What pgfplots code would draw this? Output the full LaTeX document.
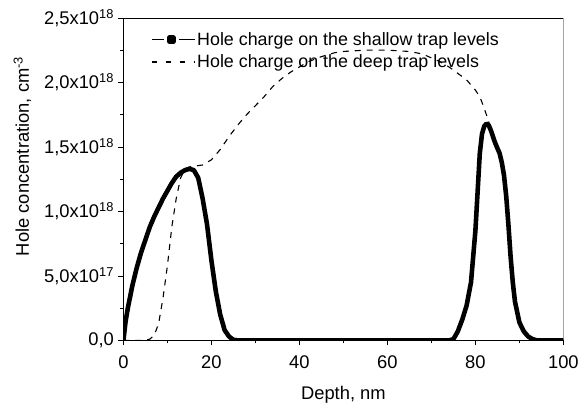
\documentclass[border=0pt]{standalone}
\usepackage{fontspec}
\setmainfont{Liberation Sans}
\usepackage{pgfplots}
\pgfplotsset{compat=1.18}
\usetikzlibrary{calc}

% values in units of 1e18 cm^-3
\pgfplotstableread{
x y
0 0
0.5 0.15
1 0.25
2 0.42
3 0.56
4 0.68
5 0.78
6 0.88
7 0.96
8 1.03
9 1.10
10 1.16
11 1.22
12 1.27
13 1.30
14 1.32
15 1.33
16 1.32
17 1.26
18 1.10
19 0.90
20 0.62
21 0.38
22 0.20
23 0.08
24 0.03
25 0.005
26 0
74 0
75 0.01
76 0.07
77 0.16
78 0.27
79 0.45
80 0.85
80.5 1.15
81 1.45
81.5 1.60
82 1.66
82.5 1.68
83 1.67
83.5 1.63
84 1.58
84.5 1.53
85 1.49
85.5 1.45
86 1.38
86.5 1.28
87 1.12
87.5 0.90
88 0.65
88.5 0.45
89 0.30
90 0.14
91 0.07
92 0.03
93 0.01
94 0
100 0
}\shallow

\pgfplotstableread{
x y
0 0
5 0
6 0.01
7 0.04
8 0.13
9 0.33
10 0.58
11 0.88
12 1.10
13 1.26
14 1.33
15 1.345
16 1.35
17 1.355
18 1.36
19 1.38
20 1.40
22 1.48
24 1.58
26 1.67
28 1.75
30 1.82
32 1.89
34 1.97
36 2.03
38 2.08
40 2.12
42 2.16
45 2.20
48 2.23
50 2.24
55 2.25
60 2.25
65 2.24
68 2.22
70 2.19
72 2.16
74 2.12
76 2.07
78 2.02
80 1.94
81 1.89
82 1.80
83 1.70
84 1.57
85 1.48
86 1.36
87 1.12
88 0.65
89 0.30
90 0.14
91 0.06
92 0.02
93 0
100 0
}\deep

\begin{document}
\begin{tikzpicture}
\begin{axis}[
  scale only axis,
  width=442bp, height=324bp,
  xmin=0, xmax=100, ymin=0, ymax=2.5,
  xtick={0,20,40,60,80,100},
  minor xtick={10,30,50,70,90},
  ytick={0,0.5,1,1.5,2,2.5},
  minor ytick={0.25,0.75,1.25,1.75,2.25},
  yticklabels={0{,}0, 5{,}0x10\textsuperscript{17}, 1{,}0x10\textsuperscript{18},
               1{,}5x10\textsuperscript{18}, 2{,}0x10\textsuperscript{18}, 2{,}5x10\textsuperscript{18}},
  /pgf/number format/assume math mode=true,
  tick align=outside,
  axis x line*=bottom, axis y line*=left,
  major tick length=5bp, minor tick length=3bp,
  every tick/.style={black, line width=0.8bp},
  tick label style={font=\fontsize{18.5}{20}\selectfont},
  yticklabel style={xshift=-1bp},
  xticklabel style={yshift=-7bp},
  label style={font=\fontsize{18.5}{20}\selectfont},
  xlabel={Depth, nm},
  ylabel={Hole concentration, cm\textsuperscript{-3}},
  xlabel style={yshift=-11bp},
  ylabel style={at={(ticklabel cs:0.571)}, yshift=6bp},
  axis line style={line width=0.8bp},
  legend style={draw=none, fill=none, font=\fontsize{18}{20}\selectfont,
    at={(0.063,0.968)}, anchor=north west, row sep=4bp,
    legend cell align=left, inner xsep=0bp},
  legend image code/.code={},
]
\coordinate (ll) at (rel axis cs:0,0);
\coordinate (ur) at (rel axis cs:1,1);
\draw[line width=0.8bp] (rel axis cs:0,1) -- (rel axis cs:1,1) -- (rel axis cs:1,0);
\addplot[black, line width=4.6bp, line join=round,
  legend image code/.code={
    \draw[line width=1bp] (0bp,0bp) -- (12bp,0bp);
    \draw[line width=1bp] (27bp,0bp) -- (43bp,0bp);
    \fill (17.5bp,-2bp) rectangle (21.5bp,2bp);}]
  table[x=x,y=y] {\shallow};
\addlegendentry{Hole charge on the shallow trap levels}
\addplot[black, line width=1.1bp, dash pattern=on 6bp off 6bp,
  legend image code/.code={
    \draw[line width=1.1bp, dash pattern=on 5bp off 9bp] (0bp,0bp) -- (43bp,0bp);}]
  table[x=x,y=y] {\deep};
\addlegendentry{Hole charge on the deep trap levels}
\end{axis}
\path[use as bounding box] ($(ll)+(-124bp,-64bp)$) rectangle ($(ur)+(16bp,18bp)$);
\end{tikzpicture}
\end{document}
